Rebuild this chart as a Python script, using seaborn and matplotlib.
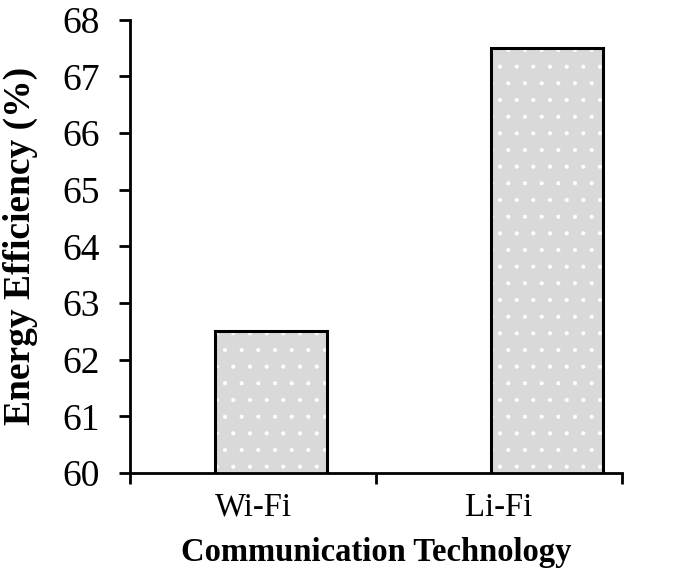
import matplotlib
matplotlib.use("Agg")
import matplotlib.pyplot as plt
import seaborn as sns
import pandas as pd

technologies = ["Wi-Fi", "Li-Fi"]
efficiency = [62.5, 67.5]
y_ticks = [60, 61, 62, 63, 64, 65, 66, 67, 68]

df = pd.DataFrame({"Technology": technologies, "Efficiency": efficiency})

sns.set_style("ticks")
plt.rcParams["font.family"] = ["Liberation Serif", "DejaVu Serif"]
plt.rcParams["hatch.linewidth"] = 0.5
plt.rcParams["text.color"] = "black"
plt.rcParams["axes.labelcolor"] = "black"
plt.rcParams["xtick.color"] = "black"
plt.rcParams["ytick.color"] = "black"

fig = plt.figure(figsize=(6.85, 5.79), dpi=100)
ax = fig.add_axes([0.19, 0.183, 0.718, 0.783])

# fill with white dot pattern
sns.barplot(data=df, x="Technology", y="Efficiency", color="#d9d9d9",
            width=0.405, saturation=1, ax=ax, hatch=".", edgecolor="white",
            linewidth=0)
# black outline on top
sns.barplot(data=df, x="Technology", y="Efficiency", fill=False,
            width=0.405, ax=ax, edgecolor="black", linewidth=2.2)

ax.set_ylim(60, 68)
ax.set_yticks(y_ticks)
# category slots as drawn in the original (bars sit slightly right of the labels)
ax.set_xlim(-0.51, 1.27)
ax.set_xticks([-0.065, 0.825])
ax.set_xticklabels(technologies)
ax.set_xticks([-0.51, 0.38, 1.27], minor=True)
ax.tick_params(axis="x", which="major", length=0, pad=14, labelsize=23.5)
ax.tick_params(axis="x", which="minor", length=8, width=2, direction="out")
ax.tick_params(axis="y", length=8, width=2, direction="out", labelsize=27, pad=14)

for side in ["top", "right"]:
    ax.spines[side].set_visible(False)
for side in ["left", "bottom"]:
    ax.spines[side].set_linewidth(2)
    ax.spines[side].set_color("black")

ax.set_xlabel("Communication Technology", fontsize=23.5, fontweight="bold", labelpad=10)
ax.set_ylabel("Energy Efficiency (%)", fontsize=27, fontweight="bold", labelpad=17)

fig.savefig("out.png", dpi=100)
